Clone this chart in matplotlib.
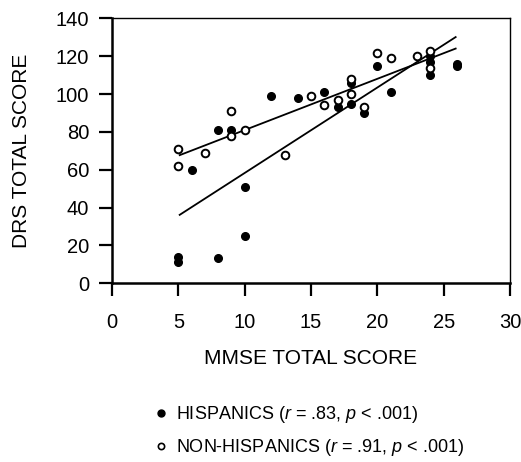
import numpy as np
import matplotlib
matplotlib.use('Agg')
import matplotlib.pyplot as plt
from matplotlib.lines import Line2D

plt.rcParams['font.family'] = ['Liberation Sans', 'DejaVu Sans']
plt.rcParams['mathtext.fontset'] = 'custom'
plt.rcParams['mathtext.it'] = 'Liberation Sans:italic'
plt.rcParams['mathtext.rm'] = 'Liberation Sans'

# Hispanics (filled)
his_x = [5, 5, 6, 8, 8, 9, 10, 10, 12, 14, 16, 17, 18, 18, 19, 20, 21, 24, 24, 24, 26, 26]
his_y = [14, 11, 60, 13.5, 81, 81, 25, 51, 99, 98, 101, 93, 106, 95, 90, 115, 101, 120, 117, 110, 115, 116]

# Non-Hispanics (open)
non_x = [5, 5, 7, 9, 9, 10, 13, 15, 16, 17, 18, 18, 19, 20, 21, 23, 24, 24]
non_y = [71, 62, 69, 91, 78, 81, 68, 99, 94, 97, 108, 100, 93, 122, 119, 120, 123, 114]

# regression lines (slope, intercept)
his_fit = (4.52, 13.1)
non_fit = (2.71, 53.9)
fit_range = [5.1, 25.9]

fig = plt.figure(figsize=(5.21, 4.62), dpi=100)
ax = fig.add_axes([0.215, 0.387, 0.764, 0.573])

xs = np.array(fit_range)
ax.plot(xs, his_fit[0] * xs + his_fit[1], 'k-', lw=1.3)
ax.plot(xs, non_fit[0] * xs + non_fit[1], 'k-', lw=1.3)

ax.plot(his_x, his_y, 'o', color='black', ms=5.5, ls='none', zorder=3)
ax.plot(non_x, non_y, 'o', mfc='white', mec='black', mew=1.4, ms=5.5, ls='none', zorder=4)

ax.set_xlim(0, 30)
ax.set_ylim(0, 140)
ax.set_xticks(range(0, 31, 5))
ax.set_yticks(range(0, 141, 20))
ax.tick_params(direction='out', length=9.5, width=1.6, labelsize=14.5)
ax.tick_params(axis='x', pad=12)
ax.tick_params(axis='y', pad=7)
ax.spines['left'].set_linewidth(1.8)
ax.spines['bottom'].set_linewidth(1.8)
ax.spines['top'].set_linewidth(1.0)
ax.spines['right'].set_linewidth(1.0)

ax.set_xlabel('MMSE TOTAL SCORE', fontsize=15, labelpad=12)
ax.set_ylabel('DRS TOTAL SCORE', fontsize=15, labelpad=18)

handles = [
    Line2D([], [], marker='o', ls='none', color='black', ms=5),
    Line2D([], [], marker='o', ls='none', mfc='white', mec='black', mew=1.2, ms=4.5),
]
labels = ['HISPANICS ($r$ = .83, $p$ < .001)',
          'NON-HISPANICS ($r$ = .91, $p$ < .001)']
fig.legend(handles, labels, loc='upper left', bbox_to_anchor=(0.281, 0.1407),
           frameon=False, fontsize=13, handlelength=0.8, handletextpad=0.45,
           labelspacing=0.65, borderaxespad=0)

fig.savefig('out.png', dpi=100)
